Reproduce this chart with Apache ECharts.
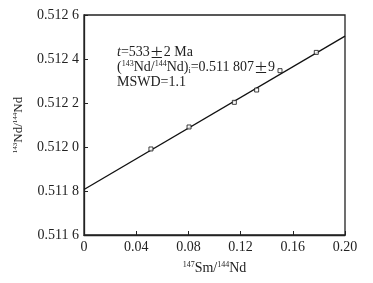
<!DOCTYPE html>
<html><head><meta charset="utf-8">
<script src="https://cdn.jsdelivr.net/npm/echarts@6/dist/echarts.min.js"></script>
<style>html,body{margin:0;padding:0;background:#fff}#c{width:373px;height:283px}</style>
</head><body><div id="c"></div>
<script>
const smNd = [0.0513, 0.0805, 0.1152, 0.1323, 0.1502, 0.1780];
const ndNd = [0.511991, 0.512091, 0.512203, 0.512259, 0.512347, 0.512430];
const isoX = [0, 0.20];
const isoY = [0.511807, 0.512504];
const xTicks = ['0', '0.04', '0.08', '0.12', '0.16', '0.20'];
const ageText = ['533', '2 Ma', '0.511 807', '9', '1.1'];

const F = '"Liberation Serif","DejaVu Serif",serif';
const CJK = '"Noto Sans CJK SC",serif';
const chart = echarts.init(document.getElementById('c'), null, {renderer: 'canvas'});
const axisLine = {lineStyle: {color: '#222', width: 1.3}};
chart.setOption({
  animation: false,
  backgroundColor: '#fff',
  grid: {left: 84, right: 28, top: 15, bottom: 48, show: true, borderColor: '#222', borderWidth: 1.3},
  xAxis: {
    type: 'value', min: 0, max: 0.2, interval: 0.04,
    axisLine: axisLine,
    axisTick: {inside: true, length: 4, lineStyle: {color: '#222'}},
    splitLine: {show: false},
    axisLabel: {color: '#222', fontFamily: F, fontSize: 14, margin: 5,
      formatter: v => xTicks[Math.round(v / 0.04)]},
    name: '{s|147}Sm/{s|144}Nd', nameLocation: 'middle', nameGap: 26,
    nameTextStyle: {color: '#222', fontFamily: F, fontSize: 14,
      rich: {s: {fontSize: 8, verticalAlign: 'top', lineHeight: 10, fontFamily: F, color: '#222'}}}
  },
  yAxis: {
    type: 'value', min: 0.5116, max: 0.5126, interval: 0.0002,
    axisLine: axisLine,
    axisTick: {inside: true, length: 4, lineStyle: {color: '#222'}},
    splitLine: {show: false},
    axisLabel: {color: '#222', fontFamily: F, fontSize: 14, margin: 5,
      formatter: v => { const s = v.toFixed(4); return s.slice(0, 5) + ' ' + s.slice(5); }},
    name: '{s|143}Nd/{s|144}Nd', nameLocation: 'middle', nameGap: 59, nameRotate: 90,
    nameTextStyle: {color: '#222', fontFamily: F, fontSize: 13,
      rich: {s: {fontSize: 7, verticalAlign: 'top', lineHeight: 10, fontFamily: F, color: '#222'}}}
  },
  graphic: [{
    type: 'text', left: 117, top: 45,
    style: {
      text: '{i|t}=' + ageText[0] + '{p|±}' + ageText[1] +
            '\n({s|143}Nd/{s|144}Nd){b|i}=' + ageText[2] + '{p|±}' + ageText[3] +
            '\nMSWD=' + ageText[4],
      fontFamily: F, fontSize: 14, fill: '#222', lineHeight: 15,
      rich: {
        i: {fontStyle: 'italic', fontFamily: F, fontSize: 14, fill: '#222'},
        p: {fontFamily: CJK, fontSize: 14, fill: '#222'},
        s: {fontSize: 8, verticalAlign: 'top', fontFamily: F, fill: '#222'},
        b: {fontSize: 8, verticalAlign: 'bottom', fontFamily: F, fill: '#222'}
      }
    }
  }],
  series: [{
    type: 'line', data: isoX.map((x, i) => [x, isoY[i]]),
    symbol: 'none', lineStyle: {color: '#111', width: 1.3}, z: 2
  }, {
    type: 'scatter', data: smNd.map((x, i) => [x, ndNd[i]]),
    symbol: 'rect', symbolSize: 4,
    itemStyle: {color: '#fff', borderColor: '#111', borderWidth: 1}, z: 3
  }]
});
</script></body></html>
